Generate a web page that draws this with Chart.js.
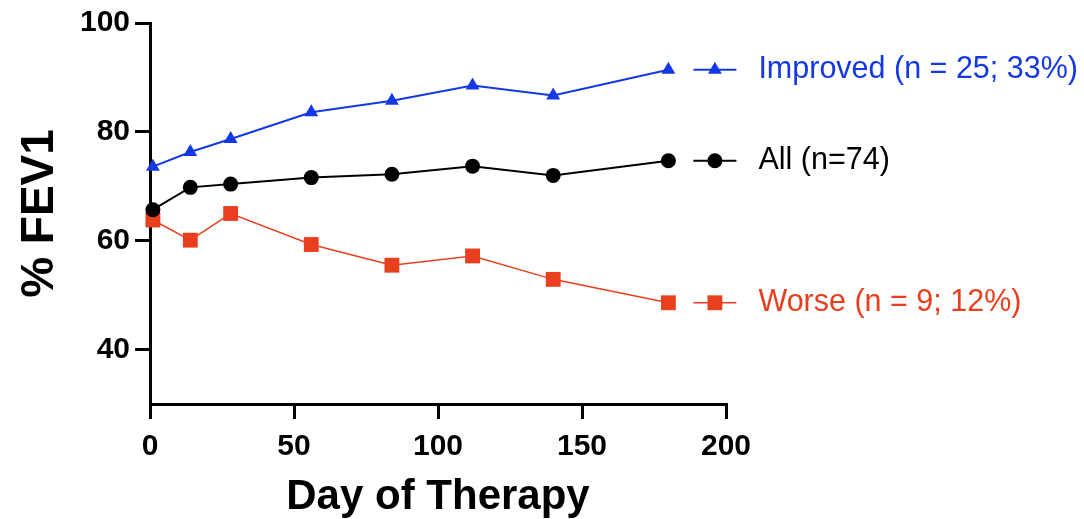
<!DOCTYPE html>
<html>
<head>
<meta charset="utf-8">
<script src="https://cdn.jsdelivr.net/npm/chart.js@4"></script>
<style>
  html, body { margin: 0; padding: 0; background: #fff; }
</style>
</head>
<body>
<canvas id="fevChart" width="1084" height="519"></canvas>
<script>
const days = [1, 14, 28, 56, 84, 112, 140, 180];
const allPatients = [65.7, 69.8, 70.4, 71.6, 72.2, 73.7, 72.0, 74.7];
const improved = [73.6, 76.3, 78.7, 83.6, 85.7, 88.5, 86.7, 91.4];
const worse = [63.8, 60.1, 65.0, 59.3, 55.5, 57.2, 52.9, 48.6];
const xTicks = [0, 50, 100, 150, 200];
const yTicks = [40, 60, 80, 100];

const FONT = "'Liberation Sans', Arial, Helvetica, sans-serif";
Chart.defaults.font.family = FONT;
Chart.defaults.color = "#000";

const toPoints = vals => vals.map((v, i) => ({ x: days[i], y: v }));

// labels drawn to the right of each line's last point, like the original
const endLabels = {
  id: "endLabels",
  afterDatasetsDraw(chart) {
    const ctx = chart.ctx;
    chart.data.datasets.forEach((ds, i) => {
      const pts = chart.getDatasetMeta(i).data;
      const last = pts[pts.length - 1];
      const x0 = last.x + 25, x1 = last.x + 68, y = last.y;
      ctx.save();
      ctx.strokeStyle = ds.borderColor;
      ctx.lineWidth = ds.borderWidth;
      ctx.beginPath();
      ctx.moveTo(x0, y);
      ctx.lineTo(x1, y);
      ctx.stroke();
      ctx.fillStyle = ds.pointBackgroundColor;
      Chart.helpers.drawPoint(ctx, { pointStyle: ds.pointStyle, radius: ds.pointRadius, rotation: 0, borderWidth: 0 }, (x0 + x1) / 2, y);
      ctx.font = "30.5px " + FONT;
      ctx.fillStyle = ds.borderColor;
      ctx.textBaseline = "middle";
      ctx.textAlign = "left";
      ctx.fillText(ds.label, x1 + 22, y);
      ctx.restore();
    });
  }
};

new Chart(document.getElementById("fevChart"), {
  type: "line",
  data: {
    datasets: [
      {
        label: "All (n=74)",
        data: toPoints(allPatients),
        borderColor: "#000000",
        pointBackgroundColor: "#000000",
        pointBorderWidth: 0,
        borderWidth: 2,
        pointStyle: "circle",
        pointRadius: 7.5,
        clip: false
      },
      {
        label: "Improved (n = 25; 33%)",
        data: toPoints(improved),
        borderColor: "#1538e6",
        pointBackgroundColor: "#1538e6",
        pointBorderWidth: 0,
        borderWidth: 2,
        pointStyle: "triangle",
        pointRadius: 8,
        clip: false
      },
      {
        label: "Worse (n = 9; 12%)",
        data: toPoints(worse),
        borderColor: "#e8401f",
        pointBackgroundColor: "#e8401f",
        pointBorderWidth: 0,
        borderWidth: 1.5,
        pointStyle: "rect",
        pointRadius: 10.5,
        clip: false
      }
    ]
  },
  options: {
    responsive: false,
    animation: false,
    layout: { padding: { top: 20, right: 358, left: 0, bottom: 0 } },
    plugins: {
      legend: { display: false },
      tooltip: { enabled: false }
    },
    scales: {
      x: {
        type: "linear",
        min: 0,
        max: 200,
        afterBuildTicks: s => { s.ticks = xTicks.map(v => ({ value: v })); },
        afterFit: s => { s.height = 115; },
        grid: { drawOnChartArea: false, color: "#000", lineWidth: 3, tickWidth: 3, tickColor: "#000", tickLength: 15 },
        border: { color: "#000", width: 3 },
        ticks: { color: "#000", font: { size: 30, weight: "bold" }, padding: 10, maxRotation: 0 },
        title: { display: true, text: "Day of Therapy", color: "#000", font: { size: 42, weight: "bold" }, padding: { top: 0, bottom: -4 } }
      },
      y: {
        min: 30,
        max: 100,
        afterBuildTicks: s => { s.ticks = yTicks.map(v => ({ value: v })); },
        afterFit: s => { s.width = 150; },
        grid: { drawOnChartArea: false, color: "#000", lineWidth: 3, tickWidth: 3, tickColor: "#000", tickLength: 15 },
        border: { color: "#000", width: 3 },
        ticks: { color: "#000", font: { size: 30, weight: "bold" }, padding: 5 },
        title: { display: true, text: "% FEV1", color: "#000", font: { size: 46, weight: "bold" }, padding: { top: 13, bottom: 0 } }
      }
    }
  },
  plugins: [endLabels]
});
</script>
</body>
</html>
